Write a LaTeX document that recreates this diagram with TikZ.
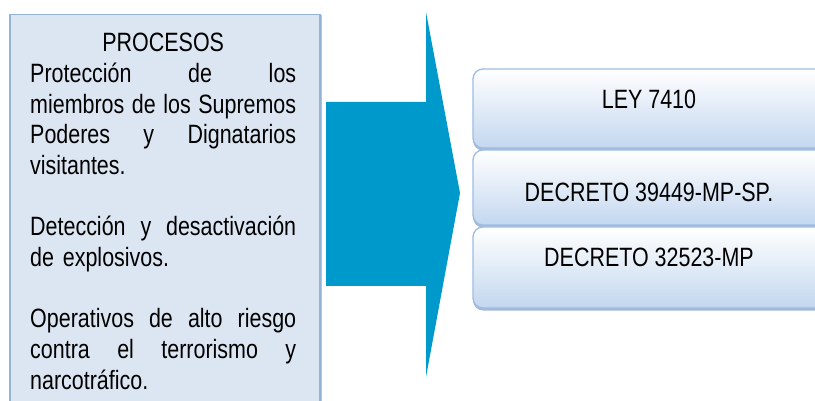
\documentclass[tikz,border=0pt]{standalone}
\usepackage{fontspec}
\setmainfont{Liberation Sans}[FakeStretch=0.81]
\usetikzlibrary{shadows}
\definecolor{lfill}{HTML}{DCE6F2}
\definecolor{lborder}{HTML}{95B3D7}
\definecolor{arrowc}{HTML}{0099CC}
\definecolor{rbottom}{HTML}{C3D7EF}
\definecolor{rborder}{HTML}{9DBDE2}
\definecolor{rshadow}{HTML}{7E9CC2}
\newcommand{\jline}[1]{\makebox[266pt][l]{#1}}
\tikzset{
  lbox/.style={draw=lborder, fill=lfill, line width=1.5pt, inner sep=0pt,
    drop shadow={shadow xshift=2pt, shadow yshift=0pt, fill=rshadow, opacity=0.6}},
  rbox/.style={draw=rborder, line width=1.3pt, rounded corners=10pt, inner sep=0pt,
    top color=white, bottom color=rbottom, minimum width=352pt,
    drop shadow={shadow xshift=0pt, shadow yshift=-2.5pt, fill=rshadow, opacity=0.7}},
  btext/.style={font=\fontsize{26.5}{30.7}\selectfont, inner sep=0pt},
}
\begin{document}
\begin{tikzpicture}[x=1pt, y=-1pt]
\useasboundingbox (0,0) rectangle (815,401);
\clip (0,0) rectangle (815,401);
\fill[white] (0,0) rectangle (815,401);
% left box
\node[lbox, minimum width=310pt, minimum height=400pt, anchor=north west] (left) at (9,14) {};
\node[btext, anchor=north west, text width=266pt, align=left] (txt) at (30,31.5) {%
\rule{0pt}{20pt}\makebox[266pt]{PROCESOS}\\
\jline{Protección\hfill de\hfill los}\\
\jline{miembros\hfill de\hfill los\hfill Supremos}\\
\jline{Poderes\hfill y\hfill Dignatarios}\\
visitantes.\\[30.7pt]
\jline{Detección\hfill y\hfill desactivación}\\
de explosivos.\\[30.7pt]
\jline{Operativos\hfill de\hfill alto\hfill riesgo}\\
\jline{contra\hfill el\hfill terrorismo\hfill y}\\
narcotráfico.};
% arrow
\fill[arrowc] (326,102) -- (426,102) -- (426,12) -- (460,193) -- (426,377) -- (426,286) -- (326,286) -- cycle;
% right boxes
\node[rbox, minimum height=79pt] (b1) at (649,108.5) {};
\node[rbox, minimum height=75pt] (b2) at (649,187.5) {};
\node[rbox, minimum height=81pt] (b3) at (649,267.5) {};
\node[btext, anchor=base] (t1) at (649,109) {LEY 7410};
\node[btext, anchor=base] (t2) at (649,202) {DECRETO 39449-MP-SP.};
\node[btext, anchor=base] (t3) at (649,267) {DECRETO 32523-MP};
\end{tikzpicture}
\end{document}
